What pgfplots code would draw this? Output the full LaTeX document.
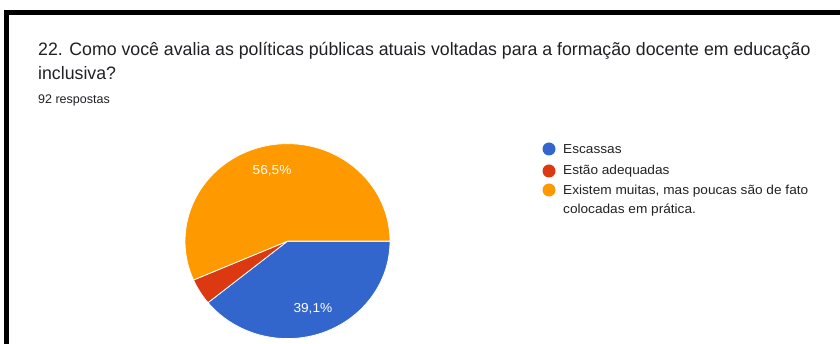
\documentclass[border=0pt]{standalone}
\usepackage{pgfplots}
\usepackage{pgfplotstable}
\pgfplotsset{compat=1.18}
\usepackage{fontspec}
\setmainfont{Liberation Sans}
\definecolor{slice0}{HTML}{3366CC}
\definecolor{slice1}{HTML}{DC3912}
\definecolor{slice2}{HTML}{FF9900}
\definecolor{titlecol}{HTML}{202124}
\definecolor{legcol}{HTML}{222222}
\pgfplotstableread{
label value
Escassas 36
Adequadas 4
Existem 52
}\piedata
\begin{document}
\begin{tikzpicture}[x=1pt,y=1pt]
\fill[white] (0,0) rectangle (840,344);
\useasboundingbox (0,0) rectangle (840,344);
% frame
\fill[black] (4,328.5) rectangle (840,334);
\fill[black] (4,0) rectangle (9.3,334);
% title
\node[anchor=base west, inner sep=0pt, text=titlecol, font=\fontsize{18}{22}\selectfont] at (38,288) {\scalebox{0.985}[1]{22. Como você avalia as políticas públicas atuais voltadas para a formação docente em educação}};
\node[anchor=base west, inner sep=0pt, text=titlecol, font=\fontsize{18}{22}\selectfont] at (38,264) {\scalebox{0.985}[1]{inclusiva?}};
\node[anchor=base west, inner sep=0pt, text=titlecol, font=\fontsize{12.5}{15}\selectfont] at (38,240) {92 respostas};
% pie
\begin{axis}[at={(280.5,105.5)}, anchor=center, x=102.5pt, y=97.5pt,
  xmin=-1.1, xmax=1.1, ymin=-1.1, ymax=1.1, hide axis, clip=false,
  /pgf/number format/assume math mode=true]%
\pgfplotstablegetrowsof{\piedata}%
\pgfmathtruncatemacro\lastrow{\pgfplotsretval-1}%
\def\total{92}%
\def\cum{0}%
\pgfplotsforeachungrouped \i in {0,...,\lastrow}{%
  \pgfplotstablegetelem{\i}{value}\of\piedata
  \let\v\pgfplotsretval
  \pgfmathsetmacro\a{-\cum/\total*360}%
  \pgfmathsetmacro\b{-(\cum+\v)/\total*360}%
  \pgfmathsetmacro\m{(\a+\b)/2}%
  \pgfmathsetmacro\p{\v/\total*100}%
  \pgfmathsetmacro\lx{0.74*cos(\m)}%
  \pgfmathsetmacro\ly{0.74*sin(\m)}%
  \edef\tmp{\noexpand\fill[fill=slice\i, draw=white, line width=0.8pt, line join=round]
    (axis cs:0,0) -- (axis cs:{cos(\a)},{sin(\a)})
    arc[start angle=\a, end angle=\b, x radius=102.5pt, y radius=97.5pt] -- cycle;}%
  \tmp%
  \pgfmathparse{\p>5 ? 1 : 0}%
  \ifnum\pgfmathresult=1
    \edef\tmp{\noexpand\node[text=white, font=\noexpand\fontsize{13}{15}\noexpand\selectfont] at (axis cs:\lx,\ly)
      {\noexpand\scalebox{1.05}[1]{\noexpand\pgfmathprintnumber[fixed, precision=1, fixed zerofill, use comma, assume math mode=true]{\p}\noexpand\%}};}%
    \tmp%
  \fi
  \pgfmathsetmacro\cum{\cum+\v}%
}%
\end{axis}
% legend
\fill[slice0] (549,195) circle (6.5);
\fill[slice1] (549,173) circle (6.5);
\fill[slice2] (549,154) circle (6.5);
\begin{scope}[every node/.style={anchor=base west, inner sep=0pt, text=legcol, font=\fontsize{13}{15}\selectfont}]
\node at (563,190) {\scalebox{1.05}[1]{Escassas}};
\node at (563,169) {\scalebox{1.05}[1]{Estão adequadas}};
\node at (563,149) {\scalebox{1.05}[1]{Existem muitas, mas poucas são de fato}};
\node at (563,130) {\scalebox{1.05}[1]{colocadas em prática.}};
\end{scope}
\end{tikzpicture}
\end{document}
